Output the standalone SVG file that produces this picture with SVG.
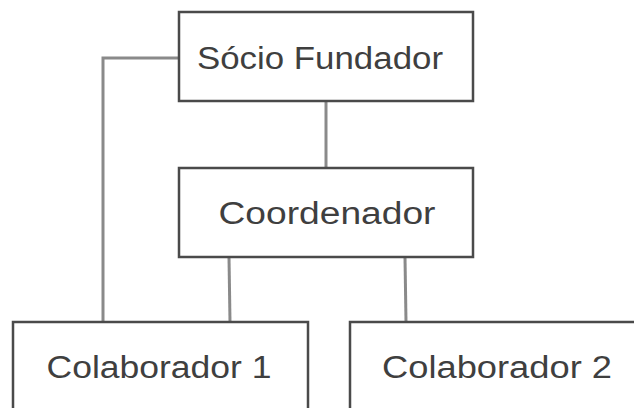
<svg xmlns="http://www.w3.org/2000/svg" width="634" height="408" viewBox="0 0 634 408">
<style>
.box{fill:#fff;stroke:#4a4a4a;stroke-width:2.5}
.lbl{font-family:"Liberation Sans","DejaVu Sans",sans-serif;font-size:31px;fill:#3f3f3f;text-anchor:middle}
.con{fill:none;stroke:#8a8a8a;stroke-width:3}
</style>
<rect width="634" height="408" fill="#fff"/>
<g id="connectors">
<polyline class="con" points="179,58 103,58 103,322"/>
<line class="con" x1="326" y1="101" x2="326" y2="168"/>
<line class="con" x1="229" y1="257" x2="230" y2="322"/>
<line class="con" x1="405" y1="257" x2="406" y2="322"/>
</g>
<g id="socio">
<rect class="box" x="179" y="12" width="294" height="89"/>
<text class="lbl" x="320" y="69" textLength="246" lengthAdjust="spacingAndGlyphs">Sócio Fundador</text>
</g>
<g id="coordenador">
<rect class="box" x="179" y="168" width="294" height="89"/>
<text class="lbl" x="327" y="224" textLength="217" lengthAdjust="spacingAndGlyphs">Coordenador</text>
</g>
<g id="colab1">
<rect class="box" x="13" y="322" width="295" height="100"/>
<text class="lbl" x="159" y="378" textLength="225" lengthAdjust="spacingAndGlyphs">Colaborador 1</text>
</g>
<g id="colab2">
<rect class="box" x="350" y="322" width="300" height="100"/>
<text class="lbl" x="497" y="378" textLength="230" lengthAdjust="spacingAndGlyphs">Colaborador 2</text>
</g>
</svg>
